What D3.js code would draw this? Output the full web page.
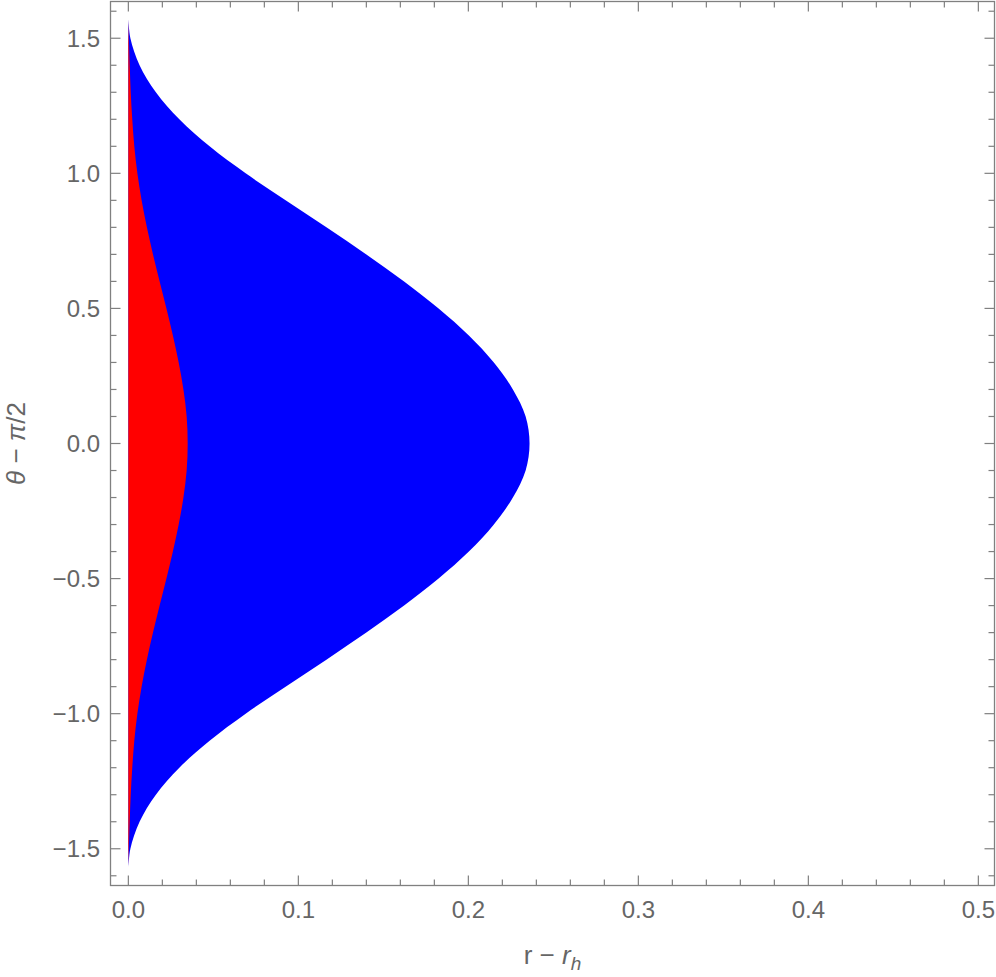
<!DOCTYPE html>
<html>
<head>
<meta charset="utf-8">
<script src="https://cdn.jsdelivr.net/npm/d3@7"></script>
<style>
  html, body { margin: 0; padding: 0; background: #fff; }
  svg { display: block; }
  text { font-family: "Liberation Sans", Arial, sans-serif; fill: #666; }
</style>
</head>
<body>
<svg id="chart" width="996" height="977"></svg>
<script>
// ---- data ----
const theta = [-1.5708, -1.5, -1.4, -1.3, -1.2, -1.1, -1.0, -0.9, -0.8, -0.7, -0.6, -0.5, -0.4, -0.3, -0.2, -0.1, 0,
               0.1, 0.2, 0.3, 0.4, 0.5, 0.6, 0.7, 0.8, 0.9, 1.0, 1.1, 1.2, 1.3, 1.4, 1.5, 1.5708];
const blueEdge = [0, 0.0012, 0.0066, 0.0162, 0.0300, 0.0478, 0.0690, 0.0925, 0.1165, 0.1400, 0.1622, 0.1825, 0.2003, 0.2150, 0.2262, 0.2337, 0.2360,
                  0.2337, 0.2262, 0.2150, 0.2003, 0.1825, 0.1622, 0.1400, 0.1165, 0.0925, 0.0690, 0.0478, 0.0300, 0.0162, 0.0066, 0.0012, 0];
const redEdge = [0, 0.0003, 0.0008, 0.0014, 0.0023, 0.0035, 0.0053, 0.0078, 0.0109, 0.0145, 0.0184, 0.0224, 0.0262, 0.0296, 0.0324, 0.0343, 0.0349,
                 0.0343, 0.0324, 0.0296, 0.0262, 0.0224, 0.0184, 0.0145, 0.0109, 0.0078, 0.0053, 0.0035, 0.0023, 0.0014, 0.0008, 0.0003, 0];

const xMajor = [0, 0.1, 0.2, 0.3, 0.4, 0.5];
const xTickLabels = ["0.0", "0.1", "0.2", "0.3", "0.4", "0.5"];
const yMajor = [-1.5, -1.0, -0.5, 0, 0.5, 1.0, 1.5];
const yTickLabels = ["\u22121.5", "\u22121.0", "\u22120.5", "0.0", "0.5", "1.0", "1.5"];
const xMinor = d3.range(0, 26).map(i => i * 0.02);
const yMinor = d3.range(-16, 17).map(i => i * 0.1);

// ---- layout ----
const L = 110.5, R = 994.5, T = 1.5, B = 885.5;
const x = d3.scaleLinear().domain([-0.0105, 0.5095]).range([L, R]);
const y = d3.scaleLinear().domain([-1.636, 1.636]).range([B, T]);

const svg = d3.select("#chart");

const pts = theta.map((t, i) => ({ t, b: blueEdge[i], r: redEdge[i] }));

const areaBlue = d3.area()
  .y(d => y(d.t))
  .x0(x(0))
  .x1(d => x(d.b))
  .curve(d3.curveCatmullRom.alpha(0.5));
const areaRed = d3.area()
  .y(d => y(d.t))
  .x0(x(0))
  .x1(d => x(d.r))
  .curve(d3.curveCatmullRom.alpha(0.5));

svg.append("path").datum(pts).attr("d", areaBlue).attr("fill", "#0000ff");
svg.append("path").datum(pts).attr("d", areaRed).attr("fill", "#ff0000");

// ---- frame ----
const frameColor = "#808080";
svg.append("rect")
  .attr("x", L).attr("y", T).attr("width", R - L).attr("height", B - T)
  .attr("fill", "none").attr("stroke", frameColor).attr("stroke-width", 1.3);

const g = svg.append("g").attr("stroke", frameColor).attr("stroke-width", 1.2);
const isMajorX = v => xMajor.some(m => Math.abs(m - v) < 1e-9);
const isMajorY = v => yMajor.some(m => Math.abs(m - v) < 1e-9);
const MAJ = 10, MIN = 6;

xMinor.forEach(v => {
  const len = isMajorX(v) ? MAJ : MIN;
  const px = x(v);
  g.append("line").attr("x1", px).attr("x2", px).attr("y1", B).attr("y2", B - len);
  g.append("line").attr("x1", px).attr("x2", px).attr("y1", T).attr("y2", T + len);
});
yMinor.forEach(v => {
  const len = isMajorY(v) ? MAJ : MIN;
  const py = y(v);
  g.append("line").attr("y1", py).attr("y2", py).attr("x1", L).attr("x2", L + len);
  g.append("line").attr("y1", py).attr("y2", py).attr("x1", R).attr("x2", R - len);
});

// ---- tick labels ----
xMajor.forEach((v, i) => {
  svg.append("text").attr("x", x(v)).attr("y", 918)
    .attr("text-anchor", "middle").attr("font-size", 24).text(xTickLabels[i]);
});
yMajor.forEach((v, i) => {
  svg.append("text").attr("x", 100).attr("y", y(v) + 8.6)
    .attr("text-anchor", "end").attr("font-size", 24).text(yTickLabels[i]);
});

// ---- axis titles ----
const xt = svg.append("text").attr("x", (L + R) / 2).attr("y", 964)
  .attr("text-anchor", "middle").attr("font-size", 26);
xt.append("tspan").text("r \u2212 ");
xt.append("tspan").attr("font-style", "italic").text("r");
xt.append("tspan").attr("font-style", "italic").attr("font-size", 19).attr("dy", 6).text("h");

const yt = svg.append("text")
  .attr("transform", `translate(25, ${(T + B) / 2}) rotate(-90)`)
  .attr("text-anchor", "middle").attr("font-size", 26);
yt.append("tspan").attr("font-style", "italic").text("\u03b8");
yt.append("tspan").text(" \u2212 ");
yt.append("tspan").attr("font-style", "italic").text("\u03c0");
yt.append("tspan").text("/2");
</script>
</body>
</html>
